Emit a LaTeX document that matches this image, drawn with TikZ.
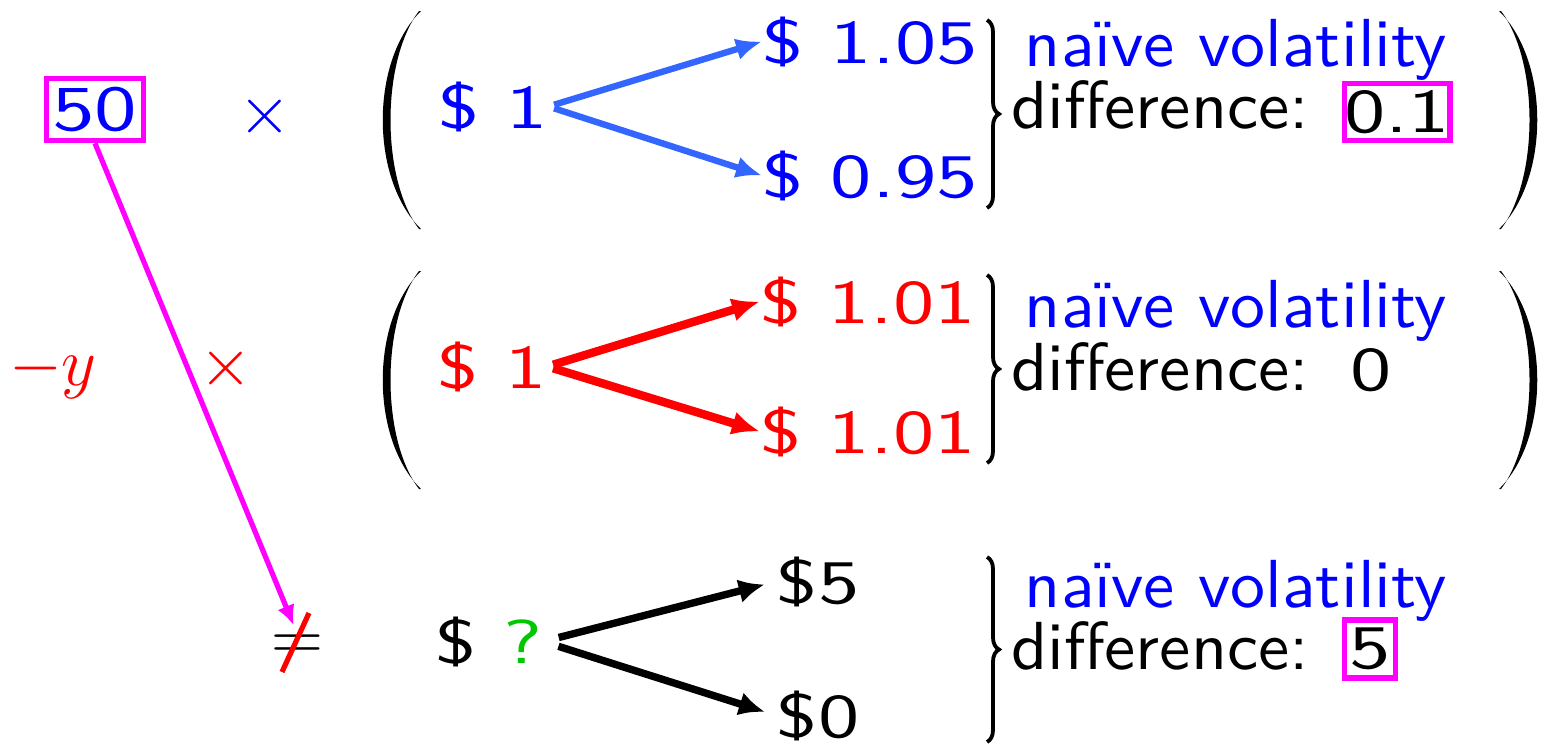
\documentclass[tikz,border=0pt]{standalone}
\usepackage{fix-cm}
\usepackage{fontspec}
\setsansfont{lmsans10-regular.otf}[FakeStretch=1.03]
\newfontfamily\moneyfont{lmsans10-regular.otf}[FakeStretch=1.33]
\usetikzlibrary{arrows.meta, decorations.pathreplacing}
\definecolor{arrowblue}{RGB}{51,102,255}
\definecolor{quest}{RGB}{0,200,0}
\definecolor{pink}{RGB}{255,0,255}

\begin{document}
\begin{tikzpicture}[
                x=0.5pt, y=-0.5pt,
                font=\fontsize{34}{40}\selectfont\sffamily,
                every node/.style={inner sep=0pt},
                money/.style={font=\fontsize{31}{36}\selectfont\moneyfont, anchor=base},
                txt/.style={anchor=base},
                hl/.style={draw=pink, line width=2.8pt, font=\fontsize{31}{36}\selectfont\moneyfont},
                brc/.style={decorate, decoration={brace, amplitude=6pt}, line width=1.9pt},
                bluearrow/.style={draw=arrowblue, line width=3.2pt, -{Latex[length=13pt,width=11pt]}, shorten <=3pt},
                redarrow/.style={draw=red, line width=4.2pt, -{Latex[length=14pt,width=12pt]}, shorten <=3pt},
                blackarrow/.style={draw=black, line width=3.7pt, -{Latex[length=13pt,width=12pt]}, shorten <=8pt, shorten >=6pt},
                pinkarrow/.style={draw=pink, line width=2.6pt, -{Latex[length=10pt,width=9pt]}, shorten >=5pt}
            ]
                \useasboundingbox (0,0) rectangle (1547,746);

                % --- KLAMMERN ---
                \fill (421,11) .. controls (370,61) and (370,179) .. (421,229) -- (419,229) .. controls (381,179) and (381,61) .. (419,11) -- cycle;
                \fill (1499,11) .. controls (1550,61) and (1550,179) .. (1499,229) -- (1501,229) .. controls (1539,179) and (1539,61) .. (1501,11) -- cycle;
                \fill[shift={(0,260)}] (421,11) .. controls (370,61) and (370,179) .. (421,229) -- (419,229) .. controls (381,179) and (381,61) .. (419,11) -- cycle;
                \fill[shift={(0,260)}] (1499,11) .. controls (1550,61) and (1550,179) .. (1499,229) -- (1501,229) .. controls (1539,179) and (1539,61) .. (1501,11) -- cycle;

                % --- ZEILE 1 ---
                \node[hl, minimum width=48.5pt, minimum height=31pt, font=\fontsize{32}{36}\selectfont\moneyfont, text=blue] (b50) at (95,109.5) {50};
                \node[blue] (tm1) at (265,116) {$\times$};
                \node[money, blue] (s1) at (493,128) {\$ 1};
                \node[money, blue] (u1) at (870,63) {\$ 1.05};
                \node[money, blue] (d1) at (870,197) {\$ 0.95};
                \draw[brc] (987,20) -- (987,208);
                \node[txt, blue] (nv1) at (1236,66) {naïve volatility};
                \node[txt] (df1) at (1160,128) {difference:};
                \node[hl, minimum width=52.5pt, minimum height=28.5pt] (bx1) at (1397,112) {0.1};
                \draw[bluearrow] (s1.east) -- (u1.west);
                \draw[bluearrow] (s1.east) -- (d1.west);

                % --- ZEILE 2 ---
                \node[red, anchor=base] (ny) at (53,385) {$-y$};
                \node[red] (tm2) at (226,368) {$\times$};
                \node[money, red] (s2) at (492,388) {\$ 1};
                \node[money, red] (u2) at (868,323) {\$ 1.01};
                \node[money, red] (d2) at (868,453) {\$ 1.01};
                \draw[brc] (987,275) -- (987,463);
                \node[txt, blue] (nv2) at (1236,327) {naïve volatility};
                \node[txt] (df2) at (1160,390) {difference:};
                \node[money] (z2) at (1371,390) {0};
                \draw[redarrow] (s2.east) -- (u2.west);
                \draw[redarrow] (s2.east) -- (d2.west);

                % --- ZEILE 3 ---
                \node[anchor=base, font=\fontsize{36}{40}\selectfont] (eq) at (297.5,660.5) {$=$};
                \draw[red, line width=2.6pt] ([shift={(11.5,-47.5)}]eq.base) -- ([shift={(-15.5,11.5)}]eq.base);
                \node[money] (s3) at (489,663) {\$ \textcolor{quest}{?}};
                \node[money] (u3) at (818,603) {\$5};
                \node[money] (d3) at (818,737) {\$0};
                \draw[brc] (987,557) -- (987,742);
                \node[txt, blue] (nv3) at (1236,607) {naïve volatility};
                \node[txt] (df3) at (1160,669) {difference:};
                \node[hl, minimum width=25.5pt, minimum height=29pt] (bx3) at (1370,649) {5};
                \draw[blackarrow] (s3.east) -- (u3.west);
                \draw[blackarrow] (s3.east) -- (d3.west);

                % --- VERBINDUNG ---
                \draw[pinkarrow] (b50.south) -- (eq.north);

            \end{tikzpicture}
\end{document}
